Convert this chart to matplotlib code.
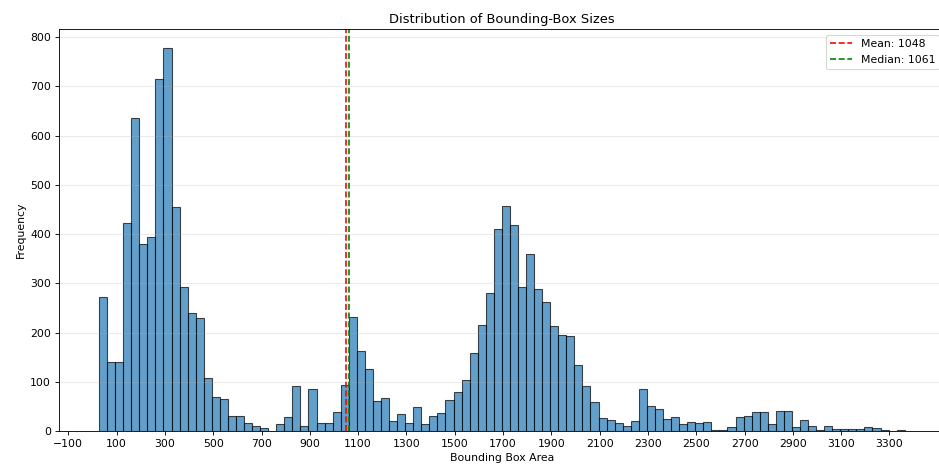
import numpy as np
import matplotlib
matplotlib.use("Agg")
import matplotlib.pyplot as plt

# histogram counts, 100 equal-width bins between min and max area
area_min = 27
area_max = 3363
counts = [
    272, 140, 140, 423, 635, 379, 395, 714, 777, 455,
    293, 239, 229, 107, 70, 64, 30, 30, 16, 11,
    7, 1, 15, 28, 92, 10, 86, 17, 16, 38,
    93, 231, 162, 126, 60, 68, 20, 34, 17, 48,
    15, 30, 37, 63, 80, 103, 158, 216, 281, 410,
    457, 418, 292, 360, 288, 261, 214, 194, 192, 134,
    91, 58, 26, 22, 16, 10, 20, 86, 51, 44,
    24, 28, 14, 18, 16, 18, 3, 3, 9, 28,
    30, 39, 39, 14, 40, 40, 8, 23, 11, 3,
    11, 4, 5, 5, 5, 8, 7, 2, 0, 2,
]
mean_area = 1048
median_area = 1061

edges = np.linspace(area_min, area_max, len(counts) + 1)
centers = (edges[:-1] + edges[1:]) / 2

dpi = 78.33
fig = plt.figure(figsize=(940 / dpi, 468 / dpi), dpi=dpi)
ax = fig.add_axes([58.7 / 940, 37 / 468, 886.3 / 940, 401.7 / 468])

ax.hist(centers, bins=edges, weights=counts, edgecolor='black', alpha=0.7)
ax.axvline(mean_area, color='red', linestyle='--', label=f'Mean: {mean_area}')
ax.axvline(median_area, color='green', linestyle='--', label=f'Median: {median_area}')

ax.set_title("Distribution of Bounding-Box Sizes")
ax.set_xlabel("Bounding Box Area")
ax.set_ylabel("Frequency")
ax.set_xticks(np.arange(-100, 3400, 200))
ax.grid(axis='y', alpha=0.3)
ax.legend()

fig.savefig("out.png", dpi=dpi)
